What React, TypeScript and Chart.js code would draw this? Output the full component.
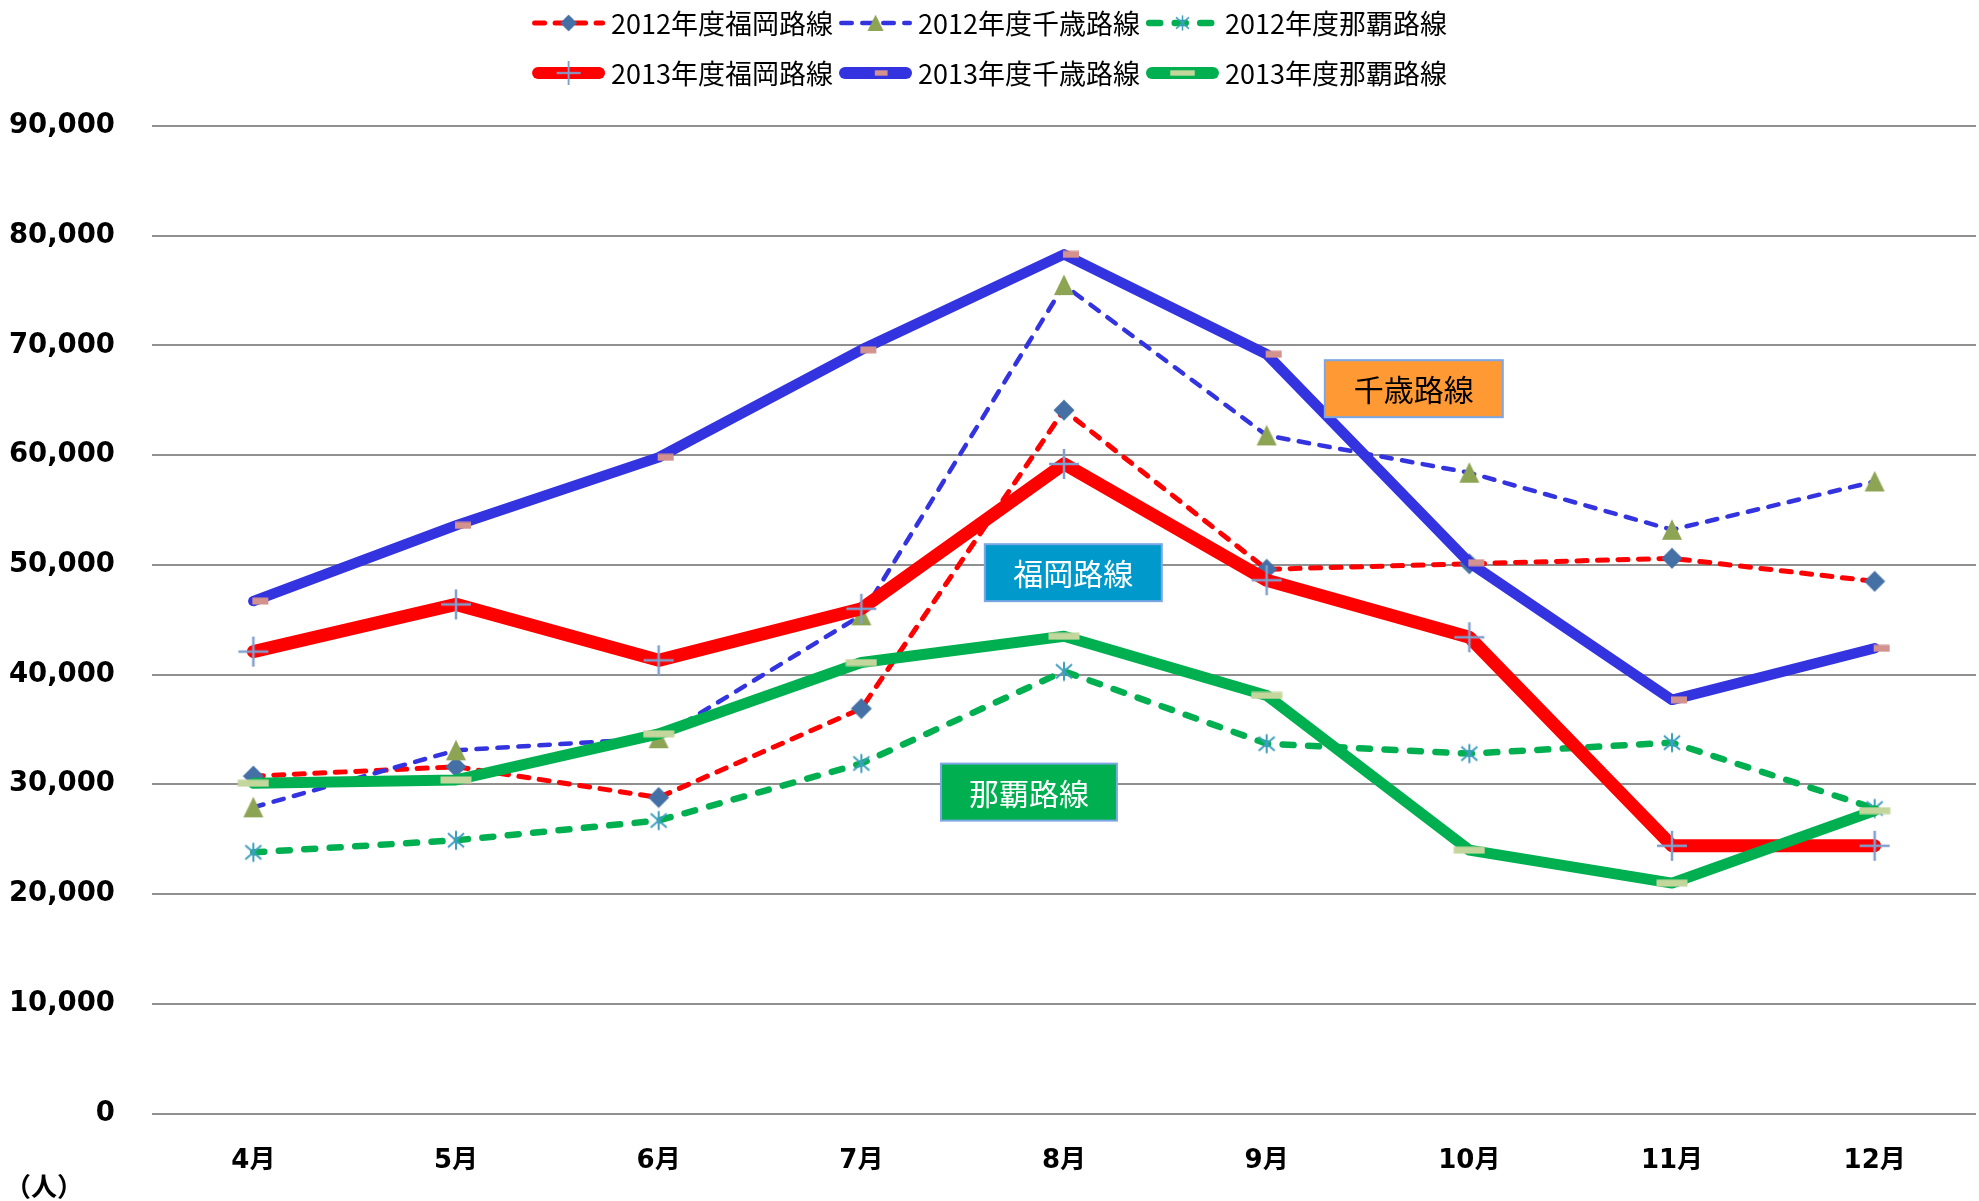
import React, { useEffect, useRef } from 'react';
import { Chart, registerables } from 'chart.js';

Chart.register(...registerables);

// ---- data ----
const months = ['4月', '5月', '6月', '7月', '8月', '9月', '10月', '11月', '12月'];
const fukuoka2012 = [30750, 31600, 28800, 36900, 64100, 49600, 50100, 50600, 48500];
const chitose2012 = [27900, 33100, 34200, 45400, 75500, 61800, 58400, 53200, 57600];
const naha2012 = [23800, 24900, 26700, 31900, 40300, 33700, 32800, 33800, 27800];
const fukuoka2013 = [42100, 46400, 41300, 46000, 59200, 48600, 43400, 24400, 24400];
const chitose2013 = [46700, 53600, 59800, 69600, 78300, 69200, 50200, 37700, 42400];
const naha2013 = [30100, 30400, 34600, 41100, 43500, 38100, 24000, 21000, 27600];
const seriesLabels = [
  '2012年度福岡路線',
  '2012年度千歳路線',
  '2012年度那覇路線',
  '2013年度福岡路線',
  '2013年度千歳路線',
  '2013年度那覇路線',
];
const yTicks = [0, 10000, 20000, 30000, 40000, 50000, 60000, 70000, 80000, 90000];
const noteLabels = ['千歳路線', '福岡路線', '那覇路線'];
const unitLabel = '（人）';

const LATIN = '"DejaVu Sans", "Noto Sans CJK JP", sans-serif';
const CJK = '"Noto Sans CJK JP", "DejaVu Sans", sans-serif';

function mk(w: number, h: number, draw: (ctx: CanvasRenderingContext2D) => void) {
  const c = document.createElement('canvas');
  c.width = w;
  c.height = h;
  const ctx = c.getContext('2d')!;
  draw(ctx);
  return c;
}

export default function App() {
  const ref = useRef<HTMLCanvasElement>(null);

  useEffect(() => {
    if (!ref.current) return;

    const markers = {
      diamond: mk(22, 22, (ctx) => {
        ctx.fillStyle = '#4570A5';
        ctx.beginPath();
        ctx.moveTo(11, 0.5);
        ctx.lineTo(21.5, 11);
        ctx.lineTo(11, 21.5);
        ctx.lineTo(0.5, 11);
        ctx.closePath();
        ctx.fill();
      }),
      triangle: mk(22, 22, (ctx) => {
        ctx.fillStyle = '#8CA453';
        ctx.beginPath();
        ctx.moveTo(11, 0.5);
        ctx.lineTo(21, 21);
        ctx.lineTo(1, 21);
        ctx.closePath();
        ctx.fill();
      }),
      star: mk(22, 22, (ctx) => {
        ctx.strokeStyle = '#3E9EC0';
        ctx.lineWidth = 2;
        ctx.beginPath();
        ctx.moveTo(11, 1.5);
        ctx.lineTo(11, 20.5);
        ctx.moveTo(3, 4);
        ctx.lineTo(19, 18);
        ctx.moveTo(19, 4);
        ctx.lineTo(3, 18);
        ctx.stroke();
      }),
      cross: mk(32, 32, (ctx) => {
        ctx.strokeStyle = '#7F9FCF';
        ctx.lineWidth = 2.5;
        ctx.beginPath();
        ctx.moveTo(1, 16);
        ctx.lineTo(31, 16);
        ctx.moveTo(16, 1);
        ctx.lineTo(16, 31);
        ctx.stroke();
      }),
      pinkDash: mk(32, 8, (ctx) => {
        ctx.fillStyle = '#D4928F';
        ctx.fillRect(15, 0.5, 16, 7);
      }),
      greenDash: mk(32, 8, (ctx) => {
        ctx.fillStyle = '#C3D69B';
        ctx.fillRect(0.5, 0.5, 31, 7);
      }),
    };

    const series = [
      { label: seriesLabels[0], data: fukuoka2012, color: '#FF0000', width: 5, dash: [10, 10.5], marker: markers.diamond, order: 5 },
      { label: seriesLabels[1], data: chitose2012, color: '#3333E0', width: 4.5, dash: [10.5, 10.5], marker: markers.triangle, order: 4 },
      { label: seriesLabels[2], data: naha2012, color: '#00B050', width: 6.5, dash: [11, 14.5], marker: markers.star, order: 3 },
      { label: seriesLabels[3], data: fukuoka2013, color: '#FF0000', width: 13, dash: [] as number[], marker: markers.cross, order: 2 },
      { label: seriesLabels[4], data: chitose2013, color: '#3333E0', width: 10.5, dash: [] as number[], marker: markers.pinkDash, order: 1 },
      { label: seriesLabels[5], data: naha2013, color: '#00B050', width: 11, dash: [] as number[], marker: markers.greenDash, order: 0 },
    ];

    const notes = [
      { text: noteLabels[0], xi: 5.726, yv: 66060, w: 178, h: 57, fill: '#FF9933', color: '#000000' },
      { text: noteLabels[1], xi: 4.046, yv: 49290, w: 177, h: 57, fill: '#0099CC', color: '#FFFFFF' },
      { text: noteLabels[2], xi: 3.827, yv: 29290, w: 176, h: 57, fill: '#00B050', color: '#FFFFFF' },
    ];

    const notesPlugin = {
      id: 'notes',
      afterDatasetsDraw(chart: any) {
        const ctx = chart.ctx as CanvasRenderingContext2D;
        const xs = chart.scales.x;
        const ys = chart.scales.y;
        ctx.save();
        notes.forEach((n) => {
          const cx = xs.getPixelForValue(n.xi);
          const cy = ys.getPixelForValue(n.yv);
          const x = cx - n.w / 2;
          const y = cy - n.h / 2;
          ctx.fillStyle = n.fill;
          ctx.fillRect(x, y, n.w, n.h);
          ctx.strokeStyle = '#7DA7E4';
          ctx.lineWidth = 2;
          ctx.strokeRect(x, y, n.w, n.h);
          ctx.fillStyle = n.color;
          ctx.font = `30px ${CJK}`;
          ctx.textAlign = 'center';
          ctx.textBaseline = 'middle';
          ctx.fillText(n.text, cx, cy + 1);
        });
        ctx.restore();
      },
    };

    const legendPlugin = {
      id: 'customLegend',
      afterDraw(chart: any) {
        const ctx = chart.ctx as CanvasRenderingContext2D;
        ctx.save();
        ctx.font = `27px ${CJK}`;
        const rows = [series.slice(0, 3), series.slice(3)];
        const rowY = [23, 73];
        const sampleW = 73;
        const gapA = 6;
        const gapB = 6;
        rows.forEach((row, ri) => {
          const widths = row.map((s) => sampleW + gapA + ctx.measureText(s.label).width);
          const total = widths.reduce((a, b) => a + b, 0) + gapB * (row.length - 1);
          let x = chart.width / 2 - total / 2;
          const y = rowY[ri];
          row.forEach((s, i) => {
            ctx.save();
            ctx.strokeStyle = s.color;
            ctx.lineWidth = s.dash.length ? s.width : 12;
            ctx.lineCap = 'round';
            ctx.setLineDash(s.dash);
            const half = ctx.lineWidth / 2;
            ctx.beginPath();
            ctx.moveTo(x + half, y);
            ctx.lineTo(x + sampleW - half, y);
            ctx.stroke();
            ctx.restore();
            const mw = s.marker.width * 0.8;
            const mh = s.marker.height * 0.8;
            ctx.drawImage(s.marker, x + sampleW / 2 - mw / 2, y - mh / 2, mw, mh);
            ctx.fillStyle = '#000000';
            ctx.textAlign = 'left';
            ctx.textBaseline = 'middle';
            ctx.fillText(s.label, x + sampleW + gapA, y + 1);
            x += widths[i] + gapB;
          });
        });
        // unit label
        ctx.font = `bold 26px ${CJK}`;
        ctx.textAlign = 'left';
        ctx.textBaseline = 'middle';
        ctx.fillStyle = '#000000';
        ctx.fillText(unitLabel, 5, 1186);
        ctx.restore();
      },
    };

    const chart = new Chart(ref.current, {
      type: 'line',
      data: {
        labels: months,
        datasets: series.map((s) => ({
          label: s.label,
          data: s.data,
          order: s.order,
          borderColor: s.color,
          backgroundColor: s.color,
          borderWidth: s.width,
          borderDash: s.dash,
          borderCapStyle: 'round',
          borderJoinStyle: 'round',
          pointStyle: s.marker,
          pointRadius: 10,
          pointHoverRadius: 10,
          tension: 0,
          fill: false,
        })),
      } as any,
      options: {
        responsive: false,
        animation: false,
        events: [],
        layout: { autoPadding: false, padding: { top: 126, right: 3, left: 0, bottom: 0 } },
        plugins: {
          legend: { display: false },
          tooltip: { enabled: false },
        },
        scales: {
          x: {
            type: 'category',
            offset: true,
            grid: { display: false, drawTicks: false },
            border: { display: false },
            ticks: {
              color: '#000000',
              font: { family: LATIN, size: 26, weight: 'bold' },
              padding: 32,
              maxRotation: 0,
              autoSkip: false,
            },
            afterFit: (s: any) => {
              s.height = 87.5;
              s.paddingLeft = 0;
              s.paddingRight = 0;
            },
          },
          y: {
            min: yTicks[0],
            max: yTicks[yTicks.length - 1],
            afterBuildTicks: (s: any) => {
              s.ticks = yTicks.map((v) => ({ value: v }));
            },
            ticks: {
              color: '#000000',
              font: { family: LATIN, size: 27.5, weight: 'bold' },
              padding: 37,
              callback: (v: any) => Number(v).toLocaleString('en-US'),
            },
            grid: { color: '#909090', lineWidth: 2, drawTicks: false },
            border: { display: false },
            afterFit: (s: any) => {
              s.width = 152;
              s.paddingTop = 0;
              s.paddingBottom = 0;
            },
          },
        },
      } as any,
      plugins: [notesPlugin, legendPlugin],
    });

    return () => chart.destroy();
  }, []);

  return (
    <div style={{ position: 'absolute', left: 0, top: 0, width: 1979, height: 1201, background: '#ffffff' }}>
      <canvas ref={ref} width={1979} height={1201} style={{ display: 'block', width: 1979, height: 1201 }} />
    </div>
  );
}
